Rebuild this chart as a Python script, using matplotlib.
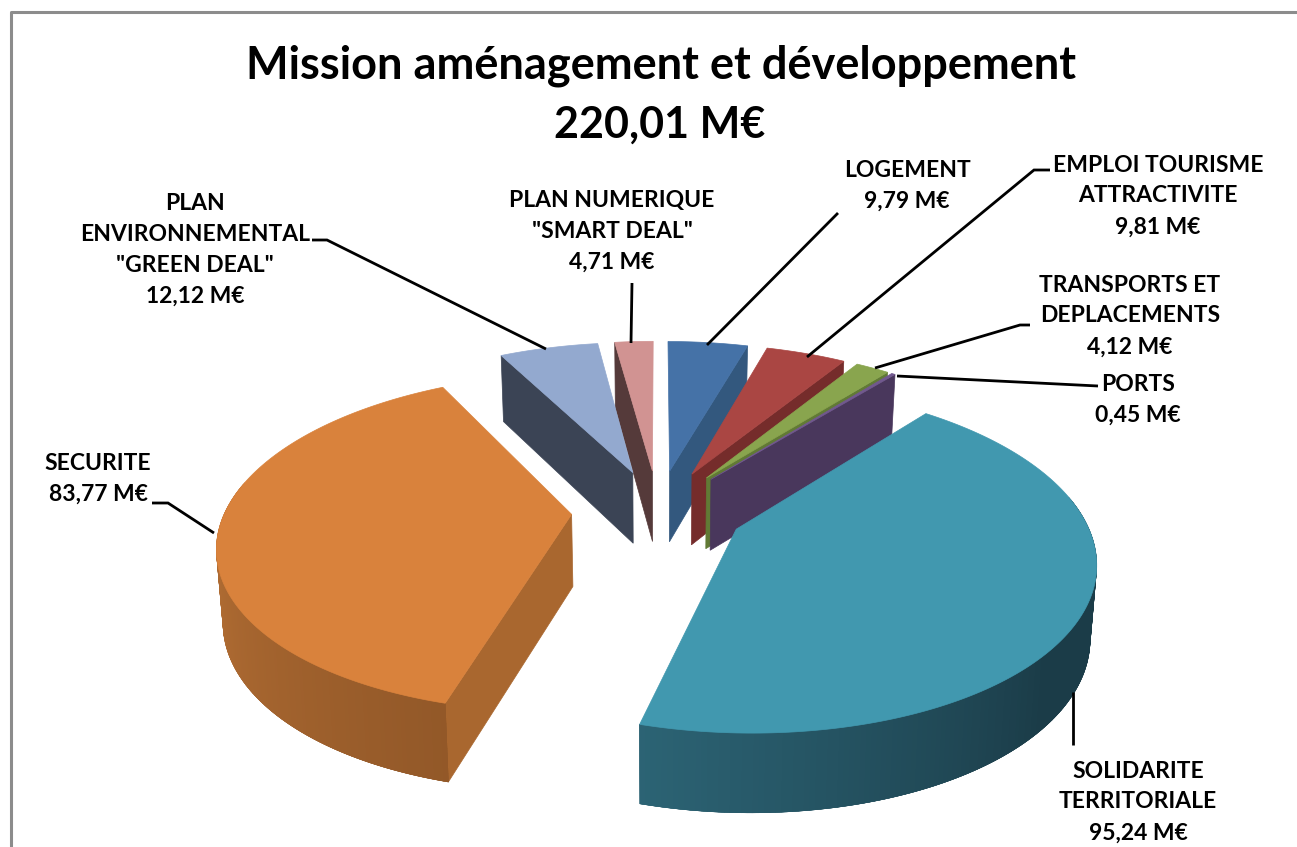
import matplotlib
matplotlib.use('Agg')
import matplotlib.pyplot as plt
import numpy as np

plt.rcParams['font.family'] = ['Lato', 'DejaVu Sans']

names = ['LOGEMENT', 'EMPLOI TOURISME\nATTRACTIVITE', 'TRANSPORTS ET\nDEPLACEMENTS', 'PORTS',
         'SOLIDARITE\nTERRITORIALE', 'SECURITE', 'PLAN\nENVIRONNEMENTAL\n"GREEN DEAL"',
         'PLAN NUMERIQUE\n"SMART DEAL"']
values = [9.79, 9.81, 4.12, 0.45, 95.24, 83.77, 12.12, 4.71]
value_labels = ['9,79 M€', '9,81 M€', '4,12 M€', '0,45 M€', '95,24 M€', '83,77 M€', '12,12 M€', '4,71 M€']

top_colors = ['#4572A7', '#AA4643', '#89A54E', '#71588F', '#4198AF', '#D9823C', '#93A9CF', '#D19392']
side_colors = ['#33587E', '#752C2B', '#617A35', '#49375C', '#1C3D49', '#A9672F', '#3B4455', '#553A3A']
rim_start = {4: '#2C6475', 5: '#BC7437'}
rim_end = {4: '#1B3C48', 5: '#925828'}

# where each label sits and its leader line, in pixels
label_xy = [(907, 186), (1158, 196), (1130, 316), (1138, 400), (1138, 802), (98, 479), (195, 250), (612, 231)]
leaders = [[(838, 213), (707, 345)],
           [(1050, 170), (1034, 170), (807, 357)],
           [(1030, 325), (1020, 325), (875, 368)],
           [(1098, 386), (897, 376)],
           [(1073, 692), (1073, 745)],
           [(152, 503), (168, 503), (214, 533)],
           [(312, 240), (327, 240), (546, 349)],
           [(632, 283), (631, 343)]]
draw_order = [7, 6, 0, 1, 2, 3, 5, 4]

# projection of the tilted disc
X0, Y0, A, B, K, H, EXPLODE = 658, 510, 346, 163, 0.166, 72, 0.25

def top_pt(x, y):
    w = 1 / (1 + K * y)
    return X0 + A * x * w, Y0 - B * y * w

def bottom_pt(x, y):
    w = 1 / (1 + K * y)
    px, py = top_pt(x, y)
    return X0 + (px - X0) * 0.985, py + H * np.sqrt(w)

def mix(c1, c2, t):
    a = np.array(matplotlib.colors.to_rgb(c1))
    b = np.array(matplotlib.colors.to_rgb(c2))
    return tuple(a + (b - a) * t)

fig = plt.figure(figsize=(12.97, 8.47), dpi=100)
ax = fig.add_axes([0, 0, 1, 1])
ax.set_xlim(0, 1297)
ax.set_ylim(847, 0)
ax.axis('off')

# frame, only left and top are in the picture
ax.plot([10.5, 10.5, 1297], [847, 12, 12], color='#8C8C8C', lw=2.2)

edges = np.cumsum([0] + values) / sum(values) * 360

for i in draw_order:
    t0, t1 = edges[i], edges[i + 1]
    mid = np.radians((t0 + t1) / 2)
    ax_, ay_ = EXPLODE * np.sin(mid), EXPLODE * np.cos(mid)
    th = np.radians(np.linspace(t0, t1, 200))
    xs = ax_ + np.sin(th)
    ys = ay_ + np.cos(th)

    # flat end face that looks at the viewer
    face = None
    if t1 < 180:
        face = (xs[-1], ys[-1])
    elif t0 > 180:
        face = (xs[0], ys[0])
    if face is not None:
        pts = [top_pt(ax_, ay_), top_pt(*face), bottom_pt(*face), bottom_pt(ax_, ay_)]
        ax.fill(*zip(*pts), color=side_colors[i], lw=0.5, zorder=2)

    # rim of the two big slices, shaded piece by piece
    if i in rim_start:
        keep = np.where(np.cos(th) < 0.2)[0]
        if i == 5:
            keep = keep[::-1]  # orange shades from its far left towards the corner
        n = len(keep)
        for j in range(n - 1):
            a, b = keep[j], keep[min(j + 3, n - 1)]  # overlap so no seams show
            pts = [top_pt(xs[a], ys[a]), top_pt(xs[b], ys[b]), bottom_pt(xs[b], ys[b]), bottom_pt(xs[a], ys[a])]
            if i == 4:
                t = min((n - j) / n * 1.8, 1)  # teal gets lighter towards its left corner
            else:
                t = j / n
            ax.fill(*zip(*pts), color=mix(rim_start[i], rim_end[i], t), lw=0.3, zorder=2)

    # top surface
    pts = [top_pt(ax_, ay_)] + [top_pt(x, y) for x, y in zip(xs, ys)]
    ax.fill(*zip(*pts), color=top_colors[i], lw=0.5, zorder=2)

for line in leaders:
    ax.plot(*zip(*line), color='black', lw=2, solid_capstyle='butt', solid_joinstyle='miter', zorder=3)

for name, val, (lx, ly) in zip(names, value_labels, label_xy):
    ax.text(lx, ly, name + '\n' + val, ha='center', va='center', fontsize=16.5, fontweight='bold',
            linespacing=1.58, color='black', zorder=4)

ax.text(661, 65.5, 'Mission aménagement et développement', ha='center', va='center', fontsize=32.5,
        fontweight='bold', color='black')
ax.text(660, 125, '220,01 M€', ha='center', va='center', fontsize=31, fontweight='bold', color='black')

fig.savefig('out.png', dpi=100)
